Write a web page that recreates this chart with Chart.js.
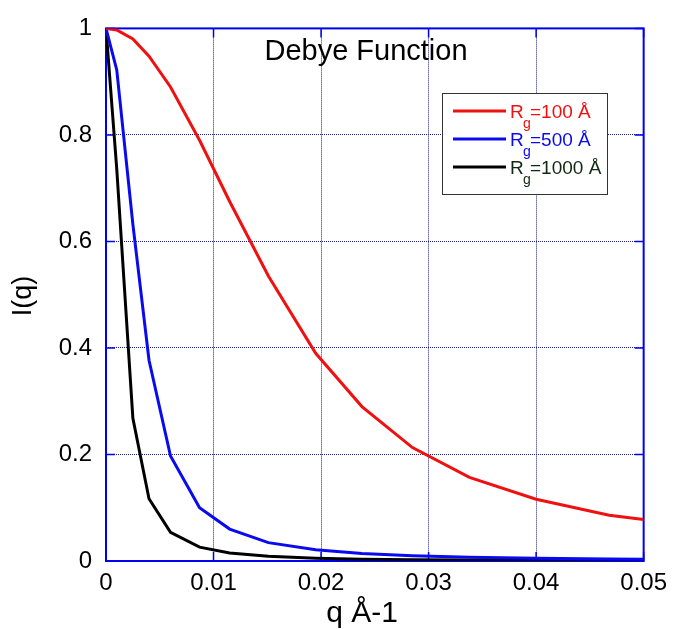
<!DOCTYPE html>
<html lang="en">
<head>
  <meta charset="UTF-8">
  <title>Debye Function</title>
  <script src="https://cdn.jsdelivr.net/npm/chart.js"></script>
  <style>
    body {
      margin: 0;
      background: #fff;
    }
    canvas {
      display: block;
    }
  </style>
</head>
<body>
  <canvas id="debyeChart" width="675" height="629"></canvas>

  <script>
    // q values (1/Å) where the curves have their vertices
    const qValues = [0, 0.001, 0.0025, 0.004, 0.006, 0.0087, 0.0115, 0.0151, 0.0195, 0.0238, 0.0285, 0.0338, 0.040, 0.0468, 0.05];

    // I(q) for each radius of gyration
    const rg100 = [1, 0.997, 0.98, 0.948, 0.89, 0.79, 0.675, 0.535, 0.39, 0.29, 0.213, 0.157, 0.116, 0.086, 0.078];
    const rg500 = [1, 0.922, 0.632, 0.377, 0.197, 0.1, 0.06, 0.0345, 0.021, 0.014, 0.0098, 0.007, 0.005, 0.0037, 0.0032];
    const rg1000 = [1, 0.736, 0.268, 0.117, 0.054, 0.026, 0.015, 0.0087, 0.0052, 0.0035, 0.0025, 0.0018, 0.0013, 0.0009, 0.0008];

    const seriesNames = ['100 Å', '500 Å', '1000 Å'];
    const seriesColors = ['#f01010', '#0a0af0', '#000000'];
    const legendTextColors = ['#f01010', '#0a0af0', '#102810'];

    const xTicks = [0, 0.01, 0.02, 0.03, 0.04, 0.05];
    const yTicks = [0, 0.2, 0.4, 0.6, 0.8, 1];

    const FONT = "'Liberation Sans', Arial, sans-serif";
    const AXIS_BLUE = '#0000f0';
    const GRID_BLUE = '#1c1c8a';

    const toPoints = ys => qValues.map((q, i) => ({ x: q, y: ys[i] }));
    const fmt = v => String(+v.toFixed(3));

    // box, inward ticks, titles and the legend with the subscript g
    const decorations = {
      id: 'decorations',
      beforeDatasetsDraw(chart) {
        const { ctx, chartArea: a, scales } = chart;
        ctx.save();
        ctx.strokeStyle = AXIS_BLUE;
        ctx.lineWidth = 1.5;
        ctx.beginPath();
        xTicks.forEach(t => {
          const px = scales.x.getPixelForValue(t);
          ctx.moveTo(px, a.bottom); ctx.lineTo(px, a.bottom - 9);
          ctx.moveTo(px, a.top); ctx.lineTo(px, a.top + 9);
        });
        yTicks.forEach(t => {
          const py = scales.y.getPixelForValue(t);
          ctx.moveTo(a.left, py); ctx.lineTo(a.left + 9, py);
          ctx.moveTo(a.right, py); ctx.lineTo(a.right - 9, py);
        });
        ctx.stroke();
        ctx.lineWidth = 2;
        ctx.strokeRect(a.left, a.top, a.right - a.left, a.bottom - a.top);
        ctx.restore();
      },
      afterDraw(chart) {
        const { ctx } = chart;
        ctx.save();
        ctx.fillStyle = '#000';

        // plot title inside the axes
        ctx.font = '29px ' + FONT;
        ctx.textAlign = 'center';
        ctx.textBaseline = 'alphabetic';
        ctx.fillText('Debye Function', 366, 60);

        // axis titles
        ctx.font = '30px ' + FONT;
        ctx.fillText('q Å-1', 362, 622);
        ctx.save();
        ctx.translate(31, 296);
        ctx.rotate(-Math.PI / 2);
        ctx.font = '27px ' + FONT;
        ctx.fillText('I(q)', 0, 0);
        ctx.restore();

        // legend
        const bx = 442, by = 93, bw = 165, bh = 101;
        ctx.fillStyle = '#fff';
        ctx.fillRect(bx, by, bw, bh);
        ctx.strokeStyle = '#333';
        ctx.lineWidth = 1;
        ctx.strokeRect(bx + 0.5, by + 0.5, bw, bh);
        ctx.textAlign = 'left';
        seriesNames.forEach((name, i) => {
          const ly = 111 + i * 28;
          ctx.strokeStyle = seriesColors[i];
          ctx.lineWidth = 3;
          ctx.beginPath();
          ctx.moveTo(453, ly);
          ctx.lineTo(506, ly);
          ctx.stroke();
          ctx.fillStyle = legendTextColors[i];
          ctx.font = '19px ' + FONT;
          ctx.fillText('R', 510, ly + 7);
          ctx.fillText('=' + name, 530, ly + 7);
          ctx.font = '14px ' + FONT;
          ctx.fillText('g', 523, ly + 17);
        });
        ctx.restore();
      }
    };

    const ctx = document.getElementById('debyeChart').getContext('2d');

    new Chart(ctx, {
      type: 'scatter',
      data: {
        datasets: [rg100, rg500, rg1000].map((ys, i) => ({
          label: 'Rg=' + seriesNames[i],
          data: toPoints(ys),
          showLine: true,
          borderColor: seriesColors[i],
          backgroundColor: seriesColors[i],
          borderWidth: 3,
          pointRadius: 0,
          tension: 0
        }))
      },
      options: {
        responsive: false,
        animation: false,
        layout: { padding: { top: 24, right: 31, left: 0, bottom: 0 } },
        plugins: {
          legend: { display: false },
          tooltip: { enabled: false }
        },
        scales: {
          x: {
            type: 'linear',
            min: 0,
            max: 0.05,
            afterFit: s => { s.height = 68; },
            afterBuildTicks: s => { s.ticks = xTicks.map(v => ({ value: v })); },
            ticks: {
              padding: 8,
              color: '#000',
              font: { family: FONT, size: 24 },
              callback: fmt,
              maxRotation: 0
            },
            grid: {
              color: GRID_BLUE,
              lineWidth: 1,
              drawTicks: false
            },
            border: { display: false, dash: [1, 1] }
          },
          y: {
            type: 'linear',
            min: 0,
            max: 1,
            afterFit: s => { s.width = 106; },
            afterBuildTicks: s => { s.ticks = yTicks.map(v => ({ value: v })); },
            ticks: {
              padding: 14,
              color: '#000',
              font: { family: FONT, size: 24 },
              callback: fmt
            },
            grid: {
              color: GRID_BLUE,
              lineWidth: 1,
              drawTicks: false
            },
            border: { display: false, dash: [1, 1] }
          }
        }
      },
      plugins: [decorations]
    });
  </script>
</body>
</html>
